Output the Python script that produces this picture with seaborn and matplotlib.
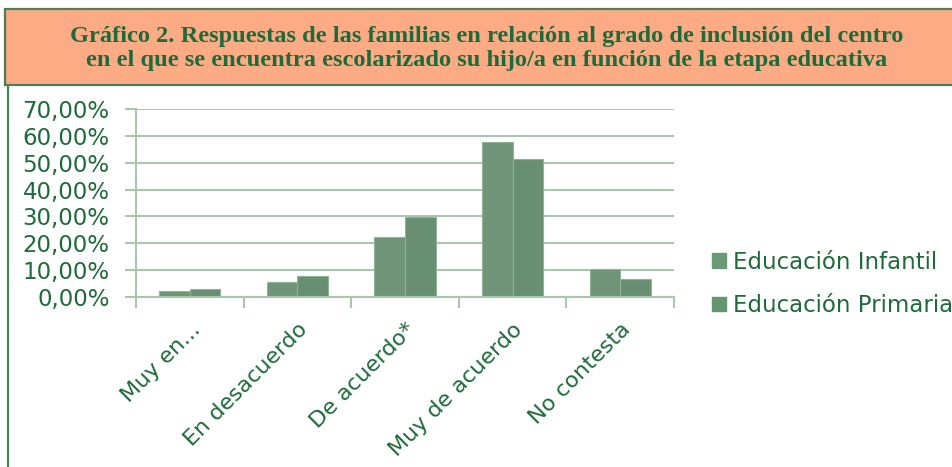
import numpy as np
import pandas as pd
import matplotlib
matplotlib.use('Agg')
import matplotlib.pyplot as plt
from matplotlib.patches import Rectangle
from matplotlib.lines import Line2D
from matplotlib.ticker import FuncFormatter, FixedLocator
import seaborn as sns

# datos
categorias = ['Muy en...', 'En desacuerdo', 'De acuerdo*', 'Muy de acuerdo', 'No contesta']
infantil = [0.022, 0.055, 0.224, 0.577, 0.105]
primaria = [0.029, 0.080, 0.298, 0.512, 0.067]
series = ['Educación Infantil', 'Educación Primaria']
colores = ['#6a9a75', '#63956e']

VERDE_TXT = '#1e6a3a'
VERDE_EJE = '#a9c7ad'

df = pd.DataFrame({
    'categoria': categorias * 2,
    'serie': [series[0]] * len(categorias) + [series[1]] * len(categorias),
    'valor': infantil + primaria,
})

sns.set_style('white')
plt.rcParams['font.family'] = ['DejaVu Sans']

fig = plt.figure(figsize=(9.53, 4.67), dpi=100)
ax = fig.add_axes([0.1427, 0.364, 0.5645, 0.4026])

sns.barplot(data=df, x='categoria', y='valor', hue='serie', order=categorias,
            hue_order=series, palette=colores, width=0.57, ax=ax,
            edgecolor='#8db595', linewidth=0.8, legend=False)

ax.set_xlim(-0.5, len(categorias) - 0.5)
ax.set_ylim(0, 0.7)
ax.set_yticks(np.arange(0, 0.71, 0.1))
ax.yaxis.set_major_formatter(FuncFormatter(lambda v, p: f'{v*100:.2f}%'.replace('.', ',')))
ax.grid(axis='y', color=VERDE_EJE, lw=1.5)
ax.set_axisbelow(True)
ax.set_xlabel('')
ax.set_ylabel('')

for s in ['top', 'right']:
    ax.spines[s].set_visible(False)
for s in ['left', 'bottom']:
    ax.spines[s].set_color(VERDE_EJE)
    ax.spines[s].set_linewidth(1.5)

ax.tick_params(axis='y', colors=VERDE_EJE, labelcolor=VERDE_TXT, length=8, width=1.5,
               labelsize=16.5, pad=11, left=True)
ax.tick_params(axis='x', which='major', length=0, labelcolor=VERDE_TXT, labelsize=16, pad=16)
ax.xaxis.set_minor_locator(FixedLocator(np.arange(-0.5, len(categorias), 1)))
ax.tick_params(axis='x', which='minor', colors=VERDE_EJE, length=8, width=1.5, bottom=True)
plt.setp(ax.get_xticklabels(), rotation=45, ha='right', rotation_mode='anchor')

# leyenda
handles = [Rectangle((0, 0), 1, 1, color=c) for c in colores]
leg = fig.legend(handles, series, loc='center left', bbox_to_anchor=(0.735, 0.392),
                 frameon=False, fontsize=16.5, handlelength=0.6, handleheight=0.6,
                 handletextpad=0.3, labelspacing=0.9, borderpad=0)
for t in leg.get_texts():
    t.set_color(VERDE_TXT)

# cabecera
fig.patches.append(Rectangle((0.005, 0.818), 1.0, 0.163, transform=fig.transFigure,
                             facecolor='#fdab84', edgecolor='#4b7f58', lw=1.6))
fig.lines.append(Line2D([0.0085, 0.0085], [0.0, 0.818], transform=fig.transFigure,
                        color='#3f8a58', lw=1.6))
fig.text(0.511, 0.896,
         'Gráfico 2. Respuestas de las familias en relación al grado de inclusión del centro\n'
         'en el que se encuentra escolarizado su hijo/a en función de la etapa educativa',
         ha='center', va='center', fontsize=17.6, fontweight='bold', color=VERDE_TXT,
         family='Liberation Serif', linespacing=1.2)

fig.savefig('out.png', dpi=100)
